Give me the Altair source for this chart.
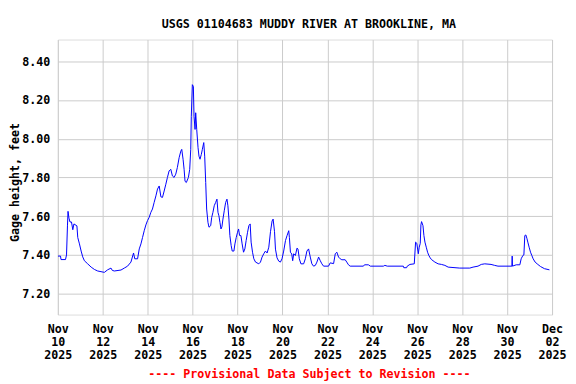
import altair as alt
import pandas as pd

# hours after 2025-11-10 00:00 and gage height (ft)
hours = [0, 2.9, 3.4, 8.2, 9.3, 10.3, 10.9, 11.9, 13.0, 14.6, 16.0, 17.2, 20.4, 21.3, 23.1,
         24.9, 26.6, 28.4, 31.9, 35.6, 39.1, 42.6, 49.7, 53.2, 56.8, 58.2, 60.4, 67.5, 71.0,
         74.5, 78.1, 80.9, 82.2, 85.2, 87.0, 88.8, 90.5, 92.3, 94.1, 95.8, 97.6, 99.4, 101.1,
         102.9, 104.8, 106.5, 108.3, 110.1, 111.8, 113.6, 115.4, 117.1, 118.9, 120.7, 122.4,
         124.2, 126.0, 127.7, 129.6, 131.4, 132.4, 133.8, 134.9, 135.9, 137.3, 139.5, 140.9,
         142.0, 142.6, 143.7, 144.8, 145.5, 146.6, 147.3, 148.4, 149.8, 150.8, 151.9, 153.3,
         154.4, 155.9, 156.9, 158.0, 159.0, 160.4, 161.5, 163.3, 164.4, 165.7, 167.1, 168.6,
         170.0, 171.1, 172.1, 173.2, 174.3, 175.3, 176.4, 177.8, 179.3, 180.7, 181.7, 182.8,
         183.8, 185.2, 186.3, 188.1, 189.2, 190.6, 192.0, 193.1, 194.2, 195.6, 196.9, 198.4,
         199.8, 201.2, 202.7, 204.1, 205.5, 206.5, 208.0, 209.4, 211.2, 214.7, 216.5, 218.2,
         220.0, 221.8, 223.6, 225.4, 227.2, 228.9, 230.0, 231.5, 232.5, 234.2, 236.0, 237.8,
         239.5, 241.3, 243.2, 244.9, 246.7, 247.4, 248.5, 249.9, 250.9, 252.0, 253.8, 255.5,
         256.6, 258.0, 259.7, 262.6, 264.4, 266.1, 267.9, 269.7, 271.4, 273.2, 275.1, 276.8,
         278.6, 280.4, 282.1, 283.9, 289.2, 291.0, 294.6, 296.4, 298.1, 299.9, 301.7, 303.4,
         307.0, 308.7, 310.5, 312.3, 326.5, 327.6, 331.8, 333.9, 347.8, 349.4, 352.0, 369.1,
         369.6, 372.6, 373.3, 376.2, 380.8, 382.2, 383.5, 385.1, 386.1, 387.2, 387.9, 388.6,
         390.1, 391.1, 392.2, 393.6, 395.0, 396.4, 397.8, 399.2, 402.8, 406.3, 409.8, 413.5,
         417.0, 429.4, 440.1, 443.6, 448.9, 452.4, 456.1, 462.8, 466.7, 470.2, 485.1, 485.4,
         485.7, 489.7, 493.6, 495.0, 496.8, 497.9, 498.9, 500.0, 501.1, 502.1, 503.5, 505.0,
         506.4, 507.8, 509.9, 512.8, 515.7, 519.9, 525.2]
gage = [7.394, 7.394, 7.376, 7.376, 7.40, 7.55, 7.625, 7.59, 7.57, 7.57, 7.53, 7.56, 7.55, 7.49, 7.457,
        7.42, 7.39, 7.37, 7.354, 7.337, 7.325, 7.317, 7.31, 7.323, 7.332, 7.32, 7.317, 7.322, 7.332,
        7.342, 7.363, 7.41, 7.38, 7.38, 7.431, 7.457, 7.49, 7.525, 7.555, 7.577, 7.594, 7.62, 7.637,
        7.671, 7.705, 7.74, 7.756, 7.70, 7.697, 7.73, 7.765, 7.80, 7.834, 7.842, 7.808,
        7.80, 7.817, 7.851, 7.902, 7.936, 7.945, 7.894, 7.842, 7.78, 7.774, 7.80, 7.842,
        7.945, 8.116, 8.279, 8.27, 8.116, 8.048, 8.134, 8.048, 7.954, 7.91, 7.894, 7.919,
        7.945, 7.98, 7.91, 7.774, 7.637, 7.568, 7.543, 7.551, 7.594, 7.62, 7.654, 7.671,
        7.688, 7.62, 7.602, 7.568, 7.534, 7.545, 7.585, 7.628, 7.671, 7.688, 7.654, 7.585,
        7.50, 7.448, 7.42, 7.42, 7.457, 7.49, 7.517, 7.534, 7.50, 7.50, 7.457, 7.414,
        7.431, 7.474, 7.517, 7.551, 7.56, 7.466, 7.414, 7.38, 7.363, 7.354, 7.363, 7.389,
        7.406, 7.42, 7.41, 7.44, 7.52, 7.575, 7.585, 7.52, 7.43, 7.385, 7.368, 7.363,
        7.38, 7.42, 7.474, 7.50, 7.525, 7.49, 7.414, 7.405, 7.37, 7.406, 7.397, 7.435,
        7.43, 7.38, 7.354, 7.354, 7.38, 7.42, 7.431, 7.389, 7.354, 7.342, 7.346, 7.363,
        7.389, 7.37, 7.354, 7.342, 7.342, 7.359, 7.355, 7.406, 7.414, 7.389, 7.38, 7.375,
        7.375, 7.363, 7.349, 7.342, 7.342, 7.349, 7.349, 7.342, 7.342, 7.346, 7.342, 7.342,
        7.334, 7.334, 7.342, 7.351, 7.354, 7.466, 7.46, 7.406, 7.44, 7.46, 7.555, 7.572,
        7.551, 7.50, 7.466, 7.44, 7.414, 7.397, 7.385, 7.376, 7.363, 7.354, 7.351, 7.346,
        7.337, 7.332, 7.332, 7.337, 7.342, 7.351, 7.354, 7.351, 7.346, 7.342, 7.342, 7.394,
        7.342, 7.349, 7.349, 7.38, 7.397, 7.40, 7.50, 7.503, 7.486, 7.466, 7.44, 7.414,
        7.397, 7.38, 7.363, 7.351, 7.34, 7.329, 7.323]

y_ticks = [7.20, 7.40, 7.60, 7.80, 8.00, 8.20, 8.40]
tick_days = ["2025-11-10", "2025-11-12", "2025-11-14", "2025-11-16", "2025-11-18", "2025-11-20",
             "2025-11-22", "2025-11-24", "2025-11-26", "2025-11-28", "2025-11-30", "2025-12-02"]

start = pd.Timestamp("2025-11-10 00:00:00")
times = [(start + pd.Timedelta(hours=h)).strftime("%Y-%m-%dT%H:%M:%S") for h in hours]
df = pd.DataFrame({"time": times, "gage": gage})

def dt(s):
    d = pd.Timestamp(s)
    return alt.DateTime(year=d.year, month=d.month, date=d.day, hours=0)

FONT = "DejaVu Sans Mono"
FS = 11.7

chart = alt.Chart(df).mark_line(color="#0000FF", strokeWidth=1, clip=True).encode(
    x=alt.X("time:T",
            scale=alt.Scale(domain=[dt("2025-11-10"), dt("2025-12-02")], nice=False),
            axis=alt.Axis(values=[dt(s) for s in tick_days],
                          labelExpr="[timeFormat(datum.value, '%b'), timeFormat(datum.value, '%d'), timeFormat(datum.value, '%Y')]",
                          labelBaseline="alphabetic", labelPadding=18, labelLineHeight=13,
                          labelFlush=False, labelOverlap=False,
                          ticks=False, tickSize=0, domain=False,
                          grid=True, gridColor="#CCCCCC", gridWidth=1,
                          labelFont=FONT, labelFontSize=FS, labelFontWeight="bold", labelColor="#000000",
                          title="---- Provisional Data Subject to Revision ----",
                          titleColor="#FF0000", titleFont=FONT, titleFontSize=FS, titleFontWeight="bold",
                          titleX=252, titleY=63, titleAlign="center", titleBaseline="alphabetic")),
    y=alt.Y("gage:Q",
            scale=alt.Scale(domain=[7.092, 8.512], nice=False, zero=False),
            axis=alt.Axis(values=y_ticks, format=".2f",
                          labelFlush=False, labelOverlap=False,
                          ticks=False, tickSize=0, domain=False, labelPadding=8,
                          grid=True, gridColor="#CCCCCC", gridWidth=1,
                          labelFont=FONT, labelFontSize=FS, labelFontWeight="bold", labelColor="#000000",
                          title="Gage height, feet",
                          titleFont=FONT, titleFontSize=FS, titleFontWeight="bold", titleColor="#000000",
                          titleX=-39.5, titleY=143, titleAlign="center", titleBaseline="alphabetic")),
).properties(
    width=496, height=276,
    title=alt.TitleParams("USGS 01104683 MUDDY RIVER AT BROOKLINE, MA", font=FONT, fontSize=FS,
                          fontWeight="bold", color="#000000", anchor="middle", dx=4,
                          baseline="alphabetic", offset=0),
    autosize="none",
    padding={"left": 50, "top": 31, "right": 16, "bottom": 68},
).configure_view(stroke="#000000", strokeWidth=1).configure(background="#FFFFFF")

chart.save("out.html", embed_options={"renderer": "svg", "actions": False})
